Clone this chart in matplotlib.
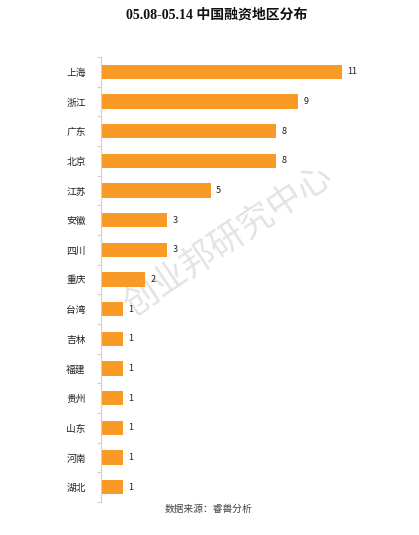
import matplotlib
matplotlib.use("Agg")
import matplotlib.pyplot as plt
import numpy as np

plt.rcParams['font.family'] = ['Noto Sans CJK SC', 'DejaVu Sans']

regions = ["上海", "浙江", "广东", "北京", "江苏", "安徽", "四川", "重庆",
           "台湾", "吉林", "福建", "贵州", "山东", "河南", "湖北"]
counts = [11, 9, 8, 8, 5, 3, 3, 2, 1, 1, 1, 1, 1, 1, 1]

W, H = 419, 535
fig = plt.figure(figsize=(W / 100, H / 100), dpi=100)

fig.text(228 / W, 1 - 240 / H, "创业邦研究中心", ha='center', va='center',
         fontsize=25, rotation=34, color='#e3e3e3', fontweight='medium', zorder=0)

ax_left, ax_right = 101, 390
ax_top, ax_bottom = 57, 502
ax = fig.add_axes([ax_left / W, 1 - ax_bottom / H, (ax_right - ax_left) / W, (ax_bottom - ax_top) / H])
ax.set_facecolor('none')
ax.set_zorder(1)

y = np.arange(len(regions))
ax.barh(y, counts, height=0.48, color='#FA9A26', edgecolor='none')
for yi, c in zip(y, counts):
    ax.text(c + 0.25, yi, str(c), va='center', ha='left', fontsize=6.5, color='#222222')

xmax = (ax_right - ax_left) / 21.9
ax.set_xlim(0, xmax)
spacing = (489 - 72) / 14
top_off = (72 - ax_top) / spacing
bot_off = (ax_bottom - 489) / spacing
ax.set_ylim(14 + bot_off, -top_off)
ax.set_yticks(y)
ax.set_yticklabels(regions, fontsize=7, color='#222222')
ax.tick_params(axis='y', which='major', length=0, pad=11)
ax.set_yticks(np.arange(-0.5, len(regions), 1.0), minor=True)
ax.tick_params(axis='y', which='minor', length=3, color='#d8cccc', width=0.8)
ax.set_xticks([])
for s in ['top', 'right', 'bottom']:
    ax.spines[s].set_visible(False)
ax.spines['left'].set_color('#d8cccc')
ax.spines['left'].set_linewidth(0.8)

fig.text(217 / W, 1 - 15 / H, "05.08-05.14 中国融资地区分布", ha='center', va='center',
         fontsize=10, fontweight='bold', family=['Liberation Serif', 'Noto Sans CJK SC'], color='#111111')
fig.text(208 / W, 1 - 509 / H, "数据来源：睿兽分析", ha='center', va='center',
         fontsize=7, color='#444444')

fig.savefig("out.png", dpi=100, facecolor='white')
